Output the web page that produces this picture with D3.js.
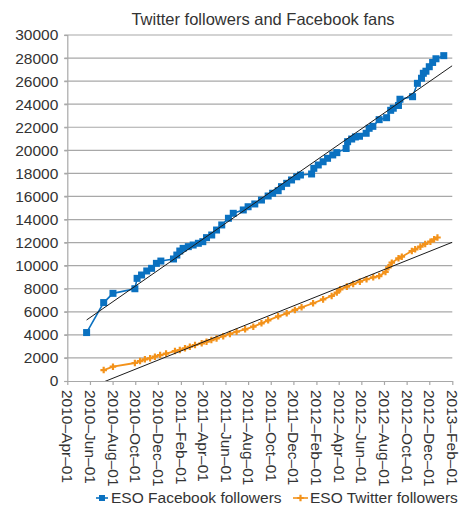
<!DOCTYPE html>
<html><head><meta charset="utf-8">
<script src="https://cdn.jsdelivr.net/npm/d3@7"></script>
<style>
html,body{margin:0;padding:0;background:#fff;}
text{font-family:"Liberation Sans",Arial,Helvetica,sans-serif;fill:#333;}
</style></head>
<body><svg id="c" width="460" height="506"></svg>
<script>
const title = "Twitter followers and Facebook fans";
const seriesNames = ["ESO Facebook followers", "ESO Twitter followers"];
const xTickLabels = ["2010-04-01","2010-06-01","2010-08-01","2010-10-01","2010-12-01","2011-02-01","2011-04-01","2011-06-01","2011-08-01","2011-10-01","2011-12-01","2012-02-01","2012-04-01","2012-06-01","2012-08-01","2012-10-01","2012-12-01","2013-02-01"];
const yTicks = [0,2000,4000,6000,8000,10000,12000,14000,16000,18000,20000,22000,24000,26000,28000,30000];

const facebookDates = ["2010-05-23","2010-07-08","2010-08-02","2010-09-30","2010-10-06","2010-10-18","2010-11-01","2010-11-14","2010-11-27","2010-12-09","2011-01-12","2011-01-21","2011-01-29","2011-02-07","2011-02-21","2011-03-06","2011-03-20","2011-04-01","2011-04-11","2011-04-25","2011-05-08","2011-05-22","2011-06-09","2011-06-22","2011-07-19","2011-08-01","2011-08-19","2011-09-06","2011-09-24","2011-10-06","2011-10-21","2011-10-30","2011-11-13","2011-11-26","2011-12-10","2011-12-20","2012-01-19","2012-01-25","2012-02-06","2012-02-19","2012-03-02","2012-03-16","2012-03-27","2012-04-21","2012-04-25","2012-05-06","2012-05-16","2012-05-27","2012-06-14","2012-06-22","2012-07-02","2012-07-19","2012-08-08","2012-08-19","2012-08-26","2012-09-09","2012-09-13","2012-10-17","2012-10-30","2012-11-10","2012-11-15","2012-11-22","2012-12-01","2012-12-10","2012-12-19","2013-01-09"];
const facebookValues = [4200,6800,7600,8000,8900,9190,9540,9770,10200,10400,10580,10920,11270,11500,11650,11790,11940,12080,12430,12660,13090,13530,14110,14540,14830,15110,15350,15690,16040,16280,16500,16850,17140,17430,17710,17860,17950,18440,18730,19010,19310,19600,19800,20160,20750,20980,21160,21220,21480,21910,22080,22660,22830,23470,23650,23890,24430,24650,25810,26250,26680,26860,27250,27620,27940,28210];

const twitterDates = ["2010-07-08","2010-08-02","2010-09-30","2010-10-14","2010-10-27","2010-11-10","2010-11-23","2010-12-07","2010-12-23","2011-01-16","2011-01-29","2011-02-12","2011-02-25","2011-03-11","2011-03-29","2011-04-11","2011-04-24","2011-05-08","2011-05-26","2011-06-13","2011-07-01","2011-07-24","2011-08-15","2011-09-06","2011-09-24","2011-10-21","2011-11-13","2011-12-05","2011-12-23","2012-01-23","2012-02-19","2012-03-13","2012-03-27","2012-04-05","2012-04-23","2012-05-10","2012-05-28","2012-06-15","2012-07-03","2012-07-19","2012-08-05","2012-08-13","2012-08-22","2012-09-09","2012-09-18","2012-10-15","2012-10-24","2012-11-07","2012-11-20","2012-12-04","2012-12-14","2012-12-23"];
const twitterValues = [950,1240,1560,1730,1880,1970,2110,2250,2380,2600,2690,2840,2970,3120,3270,3410,3550,3690,3880,4080,4270,4480,4710,5000,5260,5610,5870,6160,6390,6740,7080,7370,7670,7950,8180,8410,8610,8820,8990,9100,9450,9860,10260,10640,10780,11270,11420,11650,11880,12080,12290,12440];

// linear trend lines (start / end)
const facebookTrendDates = ["2010-05-23","2013-02-01"];
const facebookTrendValues = [5290,27340];
const twitterTrendDates = ["2010-07-08","2013-02-01"];
const twitterTrendValues = [-80,12030];

const blue = "#0a71c0", orange = "#f3921a";
const parse = d3.timeParse("%Y-%m-%d");
const monthFmt = d3.timeFormat("%b");

const svg = d3.select("#c");
const mLeft = 67.3, mRight = 452.3, mTop = 35, mBottom = 381;
const x = d3.scaleTime().domain([parse(xTickLabels[0]), parse(xTickLabels[xTickLabels.length-1])]).range([mLeft, mRight]);
const y = d3.scaleLinear().domain([0,30000]).range([mBottom, mTop]);

// gridlines
svg.append("g").selectAll("line").data(yTicks.slice(1)).join("line")
  .attr("x1", mLeft-3).attr("x2", mRight).attr("y1", d=>y(d)).attr("y2", d=>y(d))
  .attr("stroke","#a8a8a8").attr("stroke-width",1.2);

// y axis
const yAxis = svg.append("g").attr("transform",`translate(${mLeft},0)`)
  .call(d3.axisLeft(y).tickValues(yTicks).tickSize(3).tickPadding(6).tickFormat(d3.format("d")));
yAxis.select(".domain").attr("stroke","#a8a8a8").attr("stroke-width",1.2);
yAxis.selectAll(".tick line").attr("stroke","#a8a8a8").attr("stroke-width",1.2);
yAxis.selectAll("text").attr("font-size","15.5px").attr("fill","#333").style("font-family","'Liberation Sans',Arial,sans-serif");

// x axis
const xAxis = svg.append("g").attr("transform",`translate(0,${mBottom})`)
  .call(d3.axisBottom(x).tickValues(xTickLabels.map(parse)).tickSize(4).tickSizeOuter(0)
    .tickFormat(d => d3.timeFormat("%Y")(d) + "\u2013" + monthFmt(d) + "\u2013" + d3.timeFormat("%d")(d)));
xAxis.select(".domain").attr("stroke","#a8a8a8").attr("stroke-width",1.2);
xAxis.selectAll(".tick line").attr("stroke","#a8a8a8").attr("stroke-width",1.2);
xAxis.selectAll("text").attr("font-size","15.5px").attr("fill","#333").style("font-family","'Liberation Sans',Arial,sans-serif")
  .attr("text-anchor","start").attr("transform","rotate(90)").attr("x",9).attr("y",0).attr("dy","0.35em");

// title
svg.append("text").attr("x",263).attr("y",25).attr("text-anchor","middle").attr("font-size","16.5px").text(title);

// clip
svg.append("clipPath").attr("id","pc").append("rect").attr("x",mLeft).attr("y",mTop).attr("width",mRight-mLeft).attr("height",mBottom-mTop);

const fb = facebookDates.map((d,i)=>({d:parse(d), v:facebookValues[i]}));
const tw = twitterDates.map((d,i)=>({d:parse(d), v:twitterValues[i]}));
const line = d3.line().x(p=>x(p.d)).y(p=>y(p.v));

// series lines
svg.append("path").datum(fb).attr("d",line).attr("fill","none").attr("stroke",blue).attr("stroke-width",1.6);
svg.append("path").datum(tw).attr("d",line).attr("fill","none").attr("stroke",orange).attr("stroke-width",1.8);

// markers
svg.append("g").selectAll("rect").data(fb).join("rect")
  .attr("x",p=>x(p.d)-3.5).attr("y",p=>y(p.v)-3.5).attr("width",7).attr("height",7).attr("fill",blue);
const plus = d3.symbol().type(d3.symbolCross).size(24);
svg.append("g").selectAll("path").data(tw).join("path")
  .attr("transform",p=>`translate(${x(p.d)},${y(p.v)})`).attr("d",plus()).attr("fill",orange);

// trend lines
const fbT = facebookTrendDates.map((d,i)=>({d:parse(d), v:facebookTrendValues[i]}));
const twT = twitterTrendDates.map((d,i)=>({d:parse(d), v:twitterTrendValues[i]}));
svg.append("g").attr("clip-path","url(#pc)").selectAll("path").data([fbT,twT]).join("path")
  .attr("d",line).attr("fill","none").attr("stroke","#1a1a1a").attr("stroke-width",1);

// legend
const lg = svg.append("g");
const ly = 498;
lg.append("line").attr("x1",96).attr("x2",108).attr("y1",ly).attr("y2",ly).attr("stroke",blue).attr("stroke-width",1.6);
lg.append("rect").attr("x",99).attr("y",ly-3).attr("width",6).attr("height",6).attr("fill",blue);
lg.append("text").attr("x",111).attr("y",ly).attr("dy","0.35em").attr("font-size","15.5px").text(seriesNames[0]);
lg.append("line").attr("x1",293).attr("x2",308).attr("y1",ly).attr("y2",ly).attr("stroke",orange).attr("stroke-width",1.6);
lg.append("path").attr("transform",`translate(300.5,${ly})`).attr("d",plus()).attr("fill",orange);
lg.append("text").attr("x",310).attr("y",ly).attr("dy","0.35em").attr("font-size","15.5px").text(seriesNames[1]);
</script></body></html>
